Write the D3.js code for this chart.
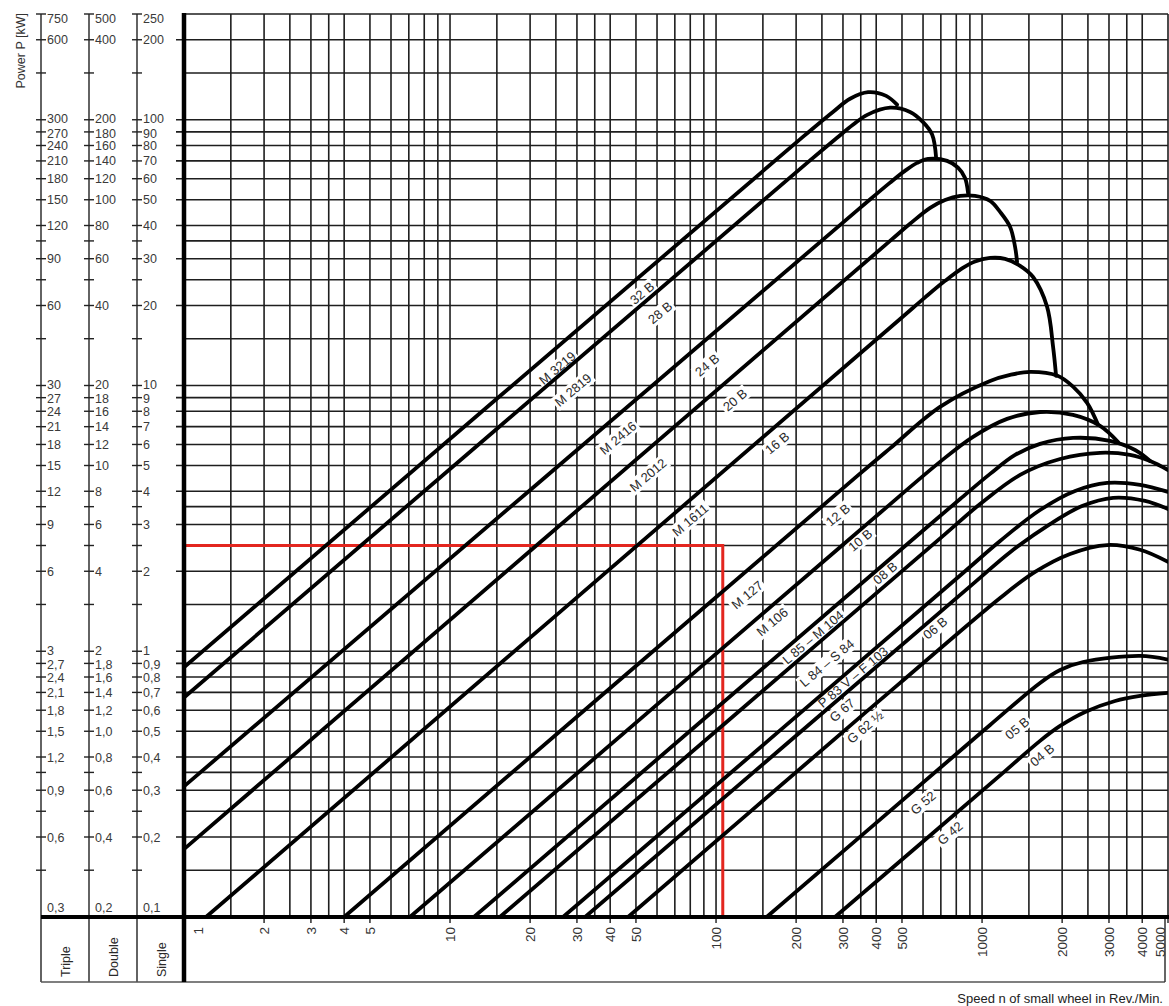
<!DOCTYPE html>
<html>
<head>
<meta charset="utf-8">
<script src="https://cdn.jsdelivr.net/npm/d3@7"></script>
<style>
    body { margin: 0; background: #fff; }
    svg { display: block; font-family: "Liberation Sans", Arial, sans-serif; }
</style>
</head>
<body>
<svg id="chart" width="1169" height="1006"></svg>
<script>
// grid steps inside one decade (both axes)
var decadeSteps = [1, 1.5, 2, 2.5, 3, 3.5, 4, 5, 6, 7, 8, 9];

// power axis: single strand kW values that carry a label, and the three label columns
var powerLabelled = [0.1, 0.2, 0.3, 0.4, 0.5, 0.6, 0.7, 0.8, 0.9, 1, 2, 3, 4, 5, 6, 7, 8, 9, 10, 20, 30, 40, 50, 60, 70, 80, 90, 100, 200, 250];
var singleLabels = ["0,1", "0,2", "0,3", "0,4", "0,5", "0,6", "0,7", "0,8", "0,9", "1", "2", "3", "4", "5", "6", "7", "8", "9", "10", "20", "30", "40", "50", "60", "70", "80", "90", "100", "200", "250"];
var doubleLabels = ["0,2", "0,4", "0,6", "0,8", "1,0", "1,2", "1,4", "1,6", "1,8", "2", "4", "6", "8", "10", "12", "14", "16", "18", "20", "40", "60", "80", "100", "120", "140", "160", "180", "200", "400", "500"];
var tripleLabels = ["0,3", "0,6", "0,9", "1,2", "1,5", "1,8", "2,1", "2,4", "2,7", "3", "6", "9", "12", "15", "18", "21", "24", "27", "30", "60", "90", "120", "150", "180", "210", "240", "270", "300", "600", "750"];
var columnNames = ["Triple", "Double", "Single"];

// speed axis labels (rev/min)
var speedTicks = [1, 2, 3, 4, 5, 10, 20, 30, 40, 50, 100, 200, 300, 400, 500, 1000, 2000, 3000, 4000, 5000];

// chain curves: [speed rev/min, power kW single strand]
var c32B = [[1, 0.87], [212, 86.2], [275, 107], [319, 120], [373, 127], [436, 123], [479, 114]];
var c28B = [[1, 0.67], [220, 68.8], [285, 85.5], [327, 95.7], [370, 104.3], [451, 111], [536, 107], [600, 98], [649, 88], [672, 71.9]];
var c24B = [[1, 0.31], [348, 46.6], [451, 58], [513, 64.2], [570, 68.8], [627, 71.2], [739, 70], [812, 66], [863, 60.4], [886, 53]];
var c20B = [[1, 0.18], [451, 35], [536, 40.6], [638, 46.6], [726, 49.9], [827, 51.7], [941, 51.7], [1072, 49.5], [1169, 45], [1275, 39.5], [1331, 33.2], [1354, 29.2]];
var c16B = [[1.21, 0.1], [492, 17.8], [611, 21.46], [726, 24.76], [841, 27.6], [941, 29.3], [1072, 30.2], [1220, 29.96], [1390, 28.2], [1555, 25.6], [1755, 19.8], [1849, 14], [1898, 10.87]];
var c12B = [[4, 0.1], [333, 4.49], [451, 5.8], [695, 8.31], [1072, 10.4], [1275, 10.96], [1515, 11.25], [1914, 10.9], [2198, 9.9], [2482, 8.6], [2730, 7.11]];
var c10B = [[7.07, 0.1], [306, 2.56], [414, 3.32], [695, 5.16], [925, 6.41], [1242, 7.49], [1652, 7.95], [2198, 7.75], [2777, 7.05], [3246, 6.13]];
var c08B = [[12.3, 0.1], [611, 2.89], [827, 3.74], [1072, 4.65], [1331, 5.48], [1652, 6.03], [2198, 6.35], [3028, 6.19], [3760, 5.72], [4281, 5.2]];
var cL84 = [[15.4, 0.1], [726, 2.76], [983, 3.58], [1390, 4.61], [1965, 5.29], [2777, 5.58], [3601, 5.48], [4281, 5.2], [5000, 4.81]];
var cP83 = [[26.6, 0.1], [863, 2.0], [1169, 2.6], [1652, 3.4], [2237, 4.01], [2951, 4.3], [3926, 4.23], [5000, 3.98]];
var cG67 = [[32.2, 0.1], [941, 1.82], [1275, 2.36], [1801, 3.01], [2376, 3.52], [3109, 3.78], [4101, 3.68], [5000, 3.43]];
var cG62 = [[46.7, 0.1], [363, 0.586], [492, 0.76], [1169, 1.587], [1582, 1.989], [2142, 2.324], [2951, 2.51], [3926, 2.41], [5000, 2.17]];
var c05B = [[155, 0.1], [792, 0.407], [1072, 0.528], [1652, 0.76], [1965, 0.85], [2397, 0.911], [3926, 0.96], [5000, 0.93]];
var c04B = [[280, 0.1], [1220, 0.354], [1652, 0.46], [1965, 0.5235], [2439, 0.591], [3162, 0.65], [3926, 0.679], [5000, 0.697]];

var chains = [c32B, c28B, c24B, c20B, c16B, c12B, c10B, c08B, cL84, cP83, cG67, cG62, c05B, c04B];

// chain names: [text, speed, power] at the label centre
var labelsUpper = [["32 B", 52.7, 22.3], ["28 B", 61.6, 18.8], ["24 B", 92.5, 11.95], ["20 B", 117.8, 8.83], ["16 B", 169.6, 6.08],
    ["12 B", 287, 3.26], ["10 B", 348, 2.62], ["08 B", 432, 1.97], ["06 B", 666, 1.224], ["05 B", 1354, 0.514], ["04 B", 1681, 0.407]];
var labelsLower = [["M 3219", 25.3, 11.65], ["M 2819", 29.0, 9.63], ["M 2416", 42.8, 6.35], ["M 2012", 55.5, 4.61], ["M 1611", 79.9, 3.12],
    ["M 127", 130.8, 1.63], ["M 106", 162.4, 1.29], ["L 85 – M 104", 231.5, 1.13], ["L 84 – S 84", 261, 0.904], ["P 83 V – F 103", 327, 0.80],
    ["G 67", 297.6, 0.601], ["G 62 ½", 363, 0.519], ["G 52", 600, 0.269], ["G 42", 758, 0.207]];

// example reading (red guide)
var redPoint = [106, 2.5];


var plotLeft = 184, plotRight = 1168, plotTop = 14, plotBottom = 917, boxBottom = 982;
var axisCols = [41, 89, 137];

var x = d3.scaleLog()
    .domain([1, 5000])
    .range([plotLeft, plotRight]);

var y = d3.scaleLog()
    .domain([0.1, 250])
    .range([plotBottom, plotTop]);

var svg = d3.select("#chart");

var gridY = [], gridX = [];
[0.1, 1, 10, 100].forEach(function(dec) {
    decadeSteps.forEach(function(s) {
        var v = +(s * dec).toPrecision(3);
        if (v <= 250) gridY.push(v);
    });
});
[1, 10, 100, 1000].forEach(function(dec) {
    decadeSteps.forEach(function(s) {
        var v = +(s * dec).toPrecision(3);
        if (v <= 5000) gridX.push(v);
    });
});

var gridColor = "#1e1e1e";

// grid
svg.append("g")
    .attr("class", "grid-x")
    .selectAll("line")
    .data(gridX)
    .enter()
    .append("line")
    .attr("x1", function(d) { return x(d); })
    .attr("x2", function(d) { return x(d); })
    .attr("y1", plotTop)
    .attr("y2", plotBottom)
    .attr("stroke", gridColor)
    .attr("stroke-width", 1.6);

svg.append("g")
    .attr("class", "grid-y")
    .selectAll("line")
    .data(gridY)
    .enter()
    .append("line")
    .attr("x1", function(d) {
        if (powerLabelled.indexOf(d) >= 0 && d != 250) {
            return plotLeft - 8
        } else {
            return plotLeft
        }
    })
    .attr("x2", plotRight)
    .attr("y1", function(d) { return y(d); })
    .attr("y2", function(d) { return y(d); })
    .attr("stroke", gridColor)
    .attr("stroke-width", 1.6);

// speed ticks under the axis
svg.append("g")
    .selectAll("line")
    .data(speedTicks)
    .enter()
    .append("line")
    .attr("x1", function(d) { return x(d); })
    .attr("x2", function(d) { return x(d); })
    .attr("y1", plotBottom)
    .attr("y2", plotBottom + 6)
    .attr("stroke", gridColor)
    .attr("stroke-width", 1.4);

// chain labels with white gaps in the grid
var lblG = svg.append("g").attr("class", "chain-labels");

function addLabel(d) {
    var g = lblG.append("g")
        .attr("transform", "translate(" + x(d[1]) + "," + y(d[2]) + ") rotate(-40)");
    var rect = g.append("rect").attr("fill", "#fff");
    var t = g.append("text")
        .attr("text-anchor", "middle")
        .attr("dy", "0.36em")
        .style("font-size", "13px")
        .style("fill", "#2a2a2a")
        .text(d[0]);
    var bb = t.node().getBBox();
    rect.attr("x", bb.x - 2)
        .attr("y", bb.y)
        .attr("width", bb.width + 4)
        .attr("height", bb.height);
}
labelsUpper.forEach(addLabel);
labelsLower.forEach(addLabel);

// red example guide
svg.append("path")
    .attr("d", "M" + plotLeft + "," + y(redPoint[1]) + "H" + x(redPoint[0]) + "V" + plotBottom)
    .attr("fill", "none")
    .attr("stroke", "#e3261f")
    .attr("stroke-width", 3);

// curves
svg.append("clipPath")
    .attr("id", "plotclip")
    .append("rect")
    .attr("x", plotLeft)
    .attr("y", plotTop)
    .attr("width", plotRight - plotLeft)
    .attr("height", plotBottom - plotTop);

var line = d3.line()
    .x(function(d) { return x(d[0]); })
    .y(function(d) { return y(d[1]); })
    .curve(d3.curveCatmullRom.alpha(0.5));

svg.append("g")
    .attr("clip-path", "url(#plotclip)")
    .selectAll("path")
    .data(chains)
    .enter()
    .append("path")
    .attr("d", line)
    .attr("fill", "none")
    .attr("stroke", "#000")
    .attr("stroke-width", 3.8)
    .attr("stroke-linejoin", "round")
    .attr("stroke-linecap", "round");

// left power columns
var colG = svg.append("g").attr("class", "power-cols");
var allLabels = [tripleLabels, doubleLabels, singleLabels];

axisCols.forEach(function(ax, i) {
    colG.append("line")
        .attr("x1", ax).attr("x2", ax)
        .attr("y1", plotTop).attr("y2", boxBottom)
        .attr("stroke", "#222")
        .attr("stroke-width", 1.4);

    colG.append("g")
        .selectAll("line")
        .data(gridY.filter(function(d) { return d > 0.1; }))
        .enter()
        .append("line")
        .attr("x1", ax - 5).attr("x2", ax + 5)
        .attr("y1", function(d) { return y(d); })
        .attr("y2", function(d) { return y(d); })
        .attr("stroke", "#222")
        .attr("stroke-width", 1.4);

    colG.append("g")
        .selectAll("text")
        .data(powerLabelled)
        .enter()
        .append("text")
        .attr("x", ax + 6)
        .attr("y", function(d) {
            if (d == 0.1) return plotBottom - 10;
            if (d == 250) return y(d) + 4;
            // the tightly packed 10/9 pairs get a little air
            if (d == 1 || d == 10 || d == 100) return y(d) - 1.2;
            if (d == 0.9 || d == 9 || d == 90) return y(d) + 1.2;
            return y(d);
        })
        .attr("dy", "0.36em")
        .style("font-size", "12.5px")
        .style("fill", "#3a3a3a")
        .text(function(d, j) { return allLabels[i][j]; });

    colG.append("text")
        .attr("transform", "translate(" + (ax + 24) + "," + (boxBottom - 5) + ") rotate(-90)")
        .attr("dy", "0.36em")
        .style("font-size", "12.5px")
        .style("fill", "#2a2a2a")
        .text(columnNames[i]);
});

// bottom box
svg.append("line")
    .attr("x1", axisCols[0]).attr("x2", plotRight - 3)
    .attr("y1", boxBottom).attr("y2", boxBottom)
    .attr("stroke", "#555").attr("stroke-width", 1.5);

svg.append("line")
    .attr("x1", plotRight - 3).attr("x2", plotRight - 3)
    .attr("y1", plotBottom).attr("y2", boxBottom)
    .attr("stroke", "#333").attr("stroke-width", 1.5);

// thick main axes
svg.append("line")
    .attr("x1", axisCols[0]).attr("x2", 1169)
    .attr("y1", plotBottom).attr("y2", plotBottom)
    .attr("stroke", "#000").attr("stroke-width", 4);

svg.append("line")
    .attr("x1", plotLeft).attr("x2", plotLeft)
    .attr("y1", plotTop - 1).attr("y2", boxBottom)
    .attr("stroke", "#000").attr("stroke-width", 4.5);

// speed labels
svg.append("g")
    .selectAll("text")
    .data(speedTicks)
    .enter()
    .append("text")
    .attr("transform", function(d) {
        var px = x(d);
        if (d == 1) px = px + 14;
        if (d == 5000) px = px - 8;
        return "translate(" + px + "," + (plotBottom + 10) + ") rotate(-90)";
    })
    .attr("text-anchor", "end")
    .attr("dy", "0.36em")
    .style("font-size", "13.5px")
    .style("fill", "#333")
    .text(function(d) { return d; });

// axis titles
svg.append("text")
    .attr("transform", "translate(20,13) rotate(-90)")
    .attr("text-anchor", "end")
    .attr("dy", "0.36em")
    .style("font-size", "12.5px")
    .style("fill", "#333")
    .text("Power P [kW]");

svg.append("text")
    .attr("x", 1163)
    .attr("y", 1003)
    .attr("text-anchor", "end")
    .style("font-size", "13px")
    .style("fill", "#222")
    .text("Speed n of small wheel in Rev./Min.");
</script>
</body>
</html>
